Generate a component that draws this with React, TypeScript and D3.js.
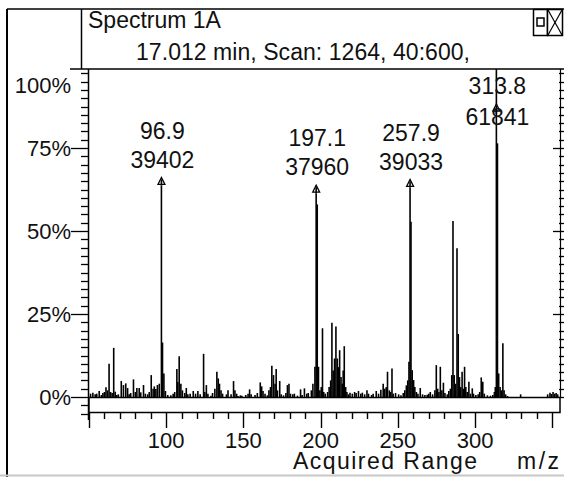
import React from "react";
import * as d3 from "d3";

// ---- data ----
const PEAK_MZ: number[] = [
  51, 52.5, 54, 55, 56.6, 58, 59, 60, 61, 62, 63, 64, 65, 66, 67, 68, 69, 70.9, 72.3, 73.8, 75, 76, 77, 78.8, 80, 81, 82.5, 83.5, 85.3, 86.5, 88, 89, 90.3, 91.5, 92.3, 93.3, 94.3, 95.5, 97.6, 98.5, 99.5,
  101, 103, 104.5, 105.5, 106.9, 107.5, 108.4, 109.5, 110.5, 112, 113, 114, 115.5, 117.5, 119, 120.5, 122, 124.2, 125, 126, 127, 129, 130, 131.5, 132.8, 133.7, 134.5, 135.5, 136.5, 139, 140, 142, 143.6, 144.5, 145.6, 146.5, 148, 149,
  151.5, 153, 154, 155, 157.5, 159, 160.9, 161.8, 162.7, 164, 165.5, 166.5, 167.5, 168.4, 169.5, 170.5, 171.2, 172, 173.5, 174.5, 176, 177.5, 178.5, 179.5, 180.5, 182, 183, 185, 187, 188, 189.5, 191, 192, 194, 195, 196.3, 197.8, 198.6, 199.5,
  200.4, 201.2, 202, 203, 204.5, 205.5, 206.5, 207.3, 208.1, 209, 209.9, 210.8, 211.6, 212.3, 213.2, 214, 214.6, 215.3, 216.2, 217, 218, 219, 220.5, 222, 223, 224.5, 226, 227, 228.5, 230, 231, 233, 234, 236, 237.5, 239, 240.5, 241.5, 242.5, 243.3, 244.5, 245.3, 246.2, 247, 248.5,
  250.5, 252, 253.5, 254.5, 255.5, 256.4, 257.2, 258.5, 259.3, 260.2, 261, 262, 263, 264.5, 266, 267.5, 269, 270, 271, 272.5, 274, 274.9, 275.8, 276.6, 277.5, 278.5, 279.5, 280.5, 282, 283, 284, 284.9, 285.7, 286.5, 287.4, 288.3, 289.1, 289.9, 290.7, 291.6, 292.4, 293.2, 294, 294.9, 296, 297, 298.2, 299,
  300.5, 302, 303, 304, 305, 306, 308, 310, 311.5, 312.5, 313.1, 314.5, 315.3, 316.2, 317, 318, 318.8, 319.8, 321, 329.5, 347, 348.5, 349.5, 350.5, 351.5, 352.5, 353.5,
];
const PEAK_PCT: number[] = [
  1.0, 1.3, 0.8, 1.0, 1.8, 0.6, 1.2, 1.5, 2.9, 2.0, 10.0, 1.5, 1.2, 14.8, 1.6, 0.6, 0.8, 4.8, 3.6, 4.1, 2.7, 0.8, 1.2, 5.3, 1.5, 2.7, 2.7, 1.4, 3.6, 1.0, 0.8, 1.5, 6.6, 2.5, 3.2, 2.4, 3.6, 4.0, 16.4, 7.1, 1.8,
  0.6, 0.5, 1.0, 1.5, 8.4, 4.5, 12.3, 4.0, 2.0, 1.2, 2.7, 0.8, 1.0, 1.8, 1.0, 1.8, 0.8, 13.0, 1.5, 3.6, 1.0, 0.4, 1.2, 2.5, 7.6, 5.6, 4.0, 2.0, 1.0, 0.8, 2.0, 0.8, 4.8, 2.0, 1.0, 0.3, 0.5, 0.4,
  0.6, 1.0, 2.3, 0.8, 0.6, 1.2, 4.4, 3.2, 1.8, 1.0, 0.5, 2.0, 3.0, 9.4, 6.6, 4.0, 8.4, 2.0, 4.8, 0.8, 0.5, 1.2, 3.6, 4.0, 1.0, 0.8, 1.0, 0.4, 2.3, 0.6, 2.6, 1.0, 1.2, 2.0, 4.0, 9.1, 58, 9.1, 2.0,
  3.0, 20.7, 1.5, 1.0, 1.5, 3.0, 5.0, 22.4, 8.0, 11.6, 21.2, 11.6, 9.0, 14.1, 6.0, 4.0, 8.0, 15.3, 3.0, 1.5, 0.8, 1.3, 1.0, 1.5, 1.2, 1.8, 1.0, 1.3, 0.8, 2.0, 1.0, 0.6, 1.0, 1.8, 1.0, 2.2, 4.0, 2.5, 3.0, 7.6, 2.0, 1.5, 8.6, 1.0, 1.2,
  0.8, 0.5, 1.2, 2.0, 3.5, 5.0, 10.6, 52.8, 8.1, 5.1, 3.0, 1.5, 1.0, 2.7, 0.8, 0.6, 0.7, 1.0, 1.5, 0.8, 2.0, 9.6, 2.5, 1.5, 9.1, 2.0, 4.3, 1.2, 0.8, 1.8, 2.5, 6.6, 53, 6.6, 4.0, 44.8, 19, 6.0, 3.0, 7.6, 2.5, 9.1, 3.0, 1.5, 4.6, 1.0, 2.6, 1.0,
  0.6, 0.8, 1.5, 5.9, 4.6, 1.0, 0.5, 0.4, 0.6, 1.5, 3.0, 76.4, 7.1, 3.0, 2.0, 16.2, 2.0, 0.8, 0.3, 0.8, 0.8, 1.3, 0.9, 1.5, 1.0, 1.2, 0.8,
];
const LABEL_MZ: number[] = [96.9, 197.1, 257.9, 313.8];
const LABEL_COUNTS: number[] = [39402, 37960, 39033, 61841];
const BASE_COUNTS = 61841;

const Y_TICK_LABELS: string[] = ["0%", "25%", "50%", "75%", "100%"];
const X_TICK_LABELS: number[] = [100, 150, 200, 250, 300];

const TITLE = "Spectrum 1A";
const SUBTITLE = "17.012 min, Scan: 1264, 40:600,";

export default function App() {
  const W = 564, H = 477;
  const plotTop = 69, base = 397;
  const x = d3.scaleLinear().domain([50, 355]).range([89, 560]);
  const y = d3.scaleLinear().domain([0, 100]).range([base, 65]);
  const font = "'Liberation Sans', Arial, sans-serif";

  const yTicks = d3.range(-5, 100.01, 2.5);
  const xTicks = d3.range(50, 351, 10);

  const labeled = LABEL_MZ.map((m, i) => ({ mz: m, counts: LABEL_COUNTS[i], pct: (LABEL_COUNTS[i] / BASE_COUNTS) * 100 }));

  return (
    <svg width={W} height={H} style={{ position: "absolute", left: 0, top: 0, background: "#fff" }} fontFamily={font}>
      <defs>
        <clipPath id="plotclip">
          <rect x={89} y={plotTop} width={471} height={base - plotTop + 1} />
        </clipPath>
      </defs>
      <rect x={0} y={0} width={W} height={H} fill="#fff" />
      {/* outer frame */}
      <line x1={7} x2={7} y1={9} y2={H} stroke="#000" strokeWidth={2} />
      <line x1={7} x2={W} y1={9} y2={9} stroke="#000" strokeWidth={1.5} />
      <line x1={0} x2={W} y1={475.5} y2={475.5} stroke="#c8c8c8" strokeWidth={2} />
      {/* header */}
      <line x1={81.5} x2={81.5} y1={9} y2={plotTop} stroke="#000" strokeWidth={1.5} />
      <line x1={70} x2={W} y1={plotTop} y2={plotTop} stroke="#000" strokeWidth={1.5} />
      <text x={88} y={28} fontSize={23} fill="#111">{TITLE}</text>
      <text x={136} y={60} fontSize={23} fill="#111" textLength={334} lengthAdjust="spacing">{SUBTITLE}</text>
      {/* window icons */}
      <rect x={533.5} y={9.5} width={14} height={26} fill="#fff" stroke="#000" strokeWidth={1.5} />
      <rect x={537} y={18} width={7} height={8} fill="none" stroke="#000" strokeWidth={1.5} />
      <rect x={547.5} y={9.5} width={15} height={26} fill="#fff" stroke="#000" strokeWidth={1.5} />
      <line x1={548} x2={562} y1={10} y2={35} stroke="#000" strokeWidth={1.2} />
      <line x1={562} x2={548} y1={10} y2={35} stroke="#000" strokeWidth={1.2} />

      {/* left y axis */}
      <line x1={88.5} x2={88.5} y1={plotTop} y2={420} stroke="#000" strokeWidth={1.5} />
      {yTicks.filter(v => y(v) > plotTop + 2).map(v => {
        const major = Math.abs(v % 25) < 1e-6 && v >= 0;
        const yy = Math.round(y(v)) + 0.5;
        return <line key={"yl" + v} x1={major ? 71 : 81} x2={88} y1={yy} y2={yy} stroke="#000" strokeWidth={1.3} />;
      })}
      {Y_TICK_LABELS.map((t, i) => {
        const v = i * 25;
        const yy = v === 100 ? 85 : y(v);
        return <text key={t} x={71} y={yy} dy="0.36em" textAnchor="end" fontSize={22} fill="#111">{t}</text>;
      })}

      {/* right y axis */}
      <line x1={560.5} x2={560.5} y1={plotTop} y2={base} stroke="#000" strokeWidth={1.2} />
      {yTicks.filter(v => y(v) > plotTop + 2 && v >= 0).map(v => {
        const major = Math.abs(v % 25) < 1e-6;
        const yy = Math.round(y(v)) + 0.5;
        return <line key={"yr" + v} x1={major ? 553 : 559} x2={W} y1={yy} y2={yy} stroke="#000" strokeWidth={1.3} />;
      })}

      {/* spectrum */}
      <g clipPath="url(#plotclip)">
        {PEAK_MZ.map((m, i) => (
          <line key={"p" + i} x1={x(m)} x2={x(m)} y1={base} y2={y(PEAK_PCT[i])} stroke="#000" strokeWidth={1.6} />
        ))}
        {labeled.map(p => (
          <line key={"lp" + p.mz} x1={x(p.mz)} x2={x(p.mz)} y1={base} y2={Math.max(y(p.pct), plotTop)} stroke="#000" strokeWidth={1.6} />
        ))}
        <line x1={89} x2={560} y1={base + 0.5} y2={base + 0.5} stroke="#000" strokeWidth={1.2} />
      </g>

      {/* peak labels with arrows */}
      {labeled.map(p => {
        const clipped = y(p.pct) < plotTop + 10;
        const tipY = clipped ? 104 : y(p.pct) - 8;
        const l1 = clipped ? 86 : tipY - 47;
        const l2 = clipped ? 117 : tipY - 18;
        const cx = x(p.mz);
        return (
          <g key={"lab" + p.mz}>
            <path d={`M${cx - 3.5},${tipY + 7} L${cx},${tipY} L${cx + 3.5},${tipY + 7} Z`} fill="#fff" stroke="#000" strokeWidth={1.3} />
            <line x1={cx} x2={cx} y1={tipY + 2} y2={y(p.pct) < plotTop ? tipY + 10 : y(p.pct)} stroke="#000" strokeWidth={1.6} />
            <text x={cx + 1} y={l1} dy="0.36em" textAnchor="middle" fontSize={23} fill="#111">{p.mz.toFixed(1)}</text>
            <text x={cx + 1} y={l2} dy="0.36em" textAnchor="middle" fontSize={23} fill="#111">{p.counts}</text>
          </g>
        );
      })}

      {/* x axis range bar */}
      <rect x={89} y={397.5} width={471} height={15} fill="#fff" stroke="#000" strokeWidth={1.5} />
      {xTicks.map(v => {
        const major = v % 50 === 0;
        const xx = Math.round(x(v)) + 0.5;
        return <line key={"xt" + v} x1={xx} x2={xx} y1={413} y2={major ? 428 : 419} stroke="#000" strokeWidth={1.4} />;
      })}
      {X_TICK_LABELS.map(v => (
        <text key={"xl" + v} x={x(v)} y={448} textAnchor="middle" fontSize={22} fill="#111">{v}</text>
      ))}
      <text x={293} y={469} fontSize={23} fill="#111" textLength={184} lengthAdjust="spacing">Acquired Range</text>
      <text x={517} y={469} fontSize={23} fill="#111" textLength={42} lengthAdjust="spacing">m/z</text>
    </svg>
  );
}
